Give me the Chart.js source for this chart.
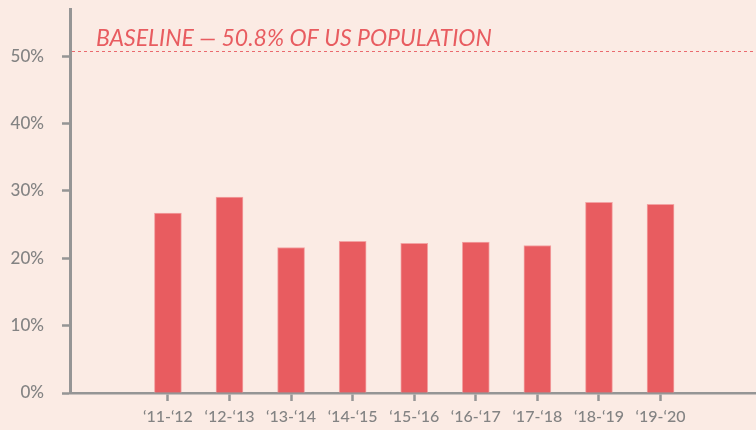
<!DOCTYPE html>
<html><head><meta charset="utf-8">
<script src="https://cdn.jsdelivr.net/npm/chart.js@4/dist/chart.umd.min.js"></script>
<style>
html,body{margin:0;padding:0;background:#fbebe4;}
#wrap{width:756px;height:430px;position:relative;}
</style></head>
<body><div id="wrap"><canvas id="c"></canvas></div>
<script>
const categories = ["\u201811-\u201812","\u201812-\u201813","\u201813-\u201814","\u201814-\u201815","\u201815-\u201816","\u201816-\u201817","\u201817-\u201818","\u201818-\u201819","\u201819-\u201820"];
const values = [26.7, 29.1, 21.6, 22.5, 22.2, 22.4, 21.9, 28.3, 28.0];
const yTicks = [0, 10, 20, 30, 40, 50];
const baselineValue = 50.8;
const baselineLabel = "BASELINE \u2014 50.8% OF US POPULATION";

const AXIS = '#959595';
const RED = '#e85c60';
const FONT = 'Lato, "DejaVu Sans", sans-serif';

const baselinePlugin = {
  id: 'baseline',
  afterDatasetsDraw(chart) {
    const {ctx, chartArea, scales} = chart;
    const y = Math.round(scales.y.getPixelForValue(baselineValue)) + 0.5;
    ctx.save();
    ctx.strokeStyle = '#ea6a6e';
    ctx.lineWidth = 1;
    ctx.setLineDash([3, 3]);
    ctx.beginPath();
    ctx.moveTo(chartArea.left + 2, y);
    ctx.lineTo(chartArea.right, y);
    ctx.stroke();
    ctx.setLineDash([]);
    ctx.fillStyle = RED;
    ctx.font = 'italic 23px ' + FONT;
    ctx.textBaseline = 'alphabetic';
    ctx.textAlign = 'left';
    ctx.fillText(baselineLabel, chartArea.left + 26, y - 6);
    ctx.restore();
  }
};

new Chart(document.getElementById('c'), {
  type: 'bar',
  data: {
    datasets: [{
      data: values.map((v, i) => ({x: i, y: v})),
      backgroundColor: RED,
      borderColor: '#f3a3a3',
      borderWidth: {top: 1, left: 1, right: 1, bottom: 0},
      borderSkipped: 'bottom',
      barThickness: 27
    }]
  },
  options: {
    responsive: true,
    maintainAspectRatio: false,
    animation: false,
    layout: {padding: {top: 9, right: 0, left: 0, bottom: 0}},
    plugins: {legend: {display: false}, tooltip: {enabled: false}},
    scales: {
      x: {
        type: 'linear',
        offset: false,
        min: -1.59,
        max: 9.55,
        afterBuildTicks: (s) => { s.ticks = categories.map((c, i) => ({value: i})); },
        afterFit: (s) => { s.height = 37; s.paddingLeft = 0; s.paddingRight = 0; },
        border: {display: true, color: AXIS, width: 2.5},
        grid: {offset: false, drawOnChartArea: false, drawTicks: true, tickLength: 8, tickWidth: 2.5, tickColor: AXIS},
        ticks: {
          autoSkip: false, maxRotation: 0, padding: 6,
          color: '#838383', font: {family: FONT, size: 16, weight: '500'},
          callback: (v) => categories[v]
        }
      },
      y: {
        min: 0,
        max: 57,
        afterBuildTicks: (s) => { s.ticks = yTicks.map(v => ({value: v})); },
        afterFit: (s) => { s.width = 70; s.paddingTop = 0; s.paddingBottom = 0; },
        border: {display: true, color: AXIS, width: 3},
        grid: {drawOnChartArea: false, drawTicks: true, tickLength: 8, tickWidth: 2.5, tickColor: AXIS},
        ticks: {
          padding: 18,
          color: '#838383', font: {family: FONT, size: 17, weight: '500'},
          callback: (v) => v + '%'
        }
      }
    }
  },
  plugins: [baselinePlugin]
});
</script></body></html>
